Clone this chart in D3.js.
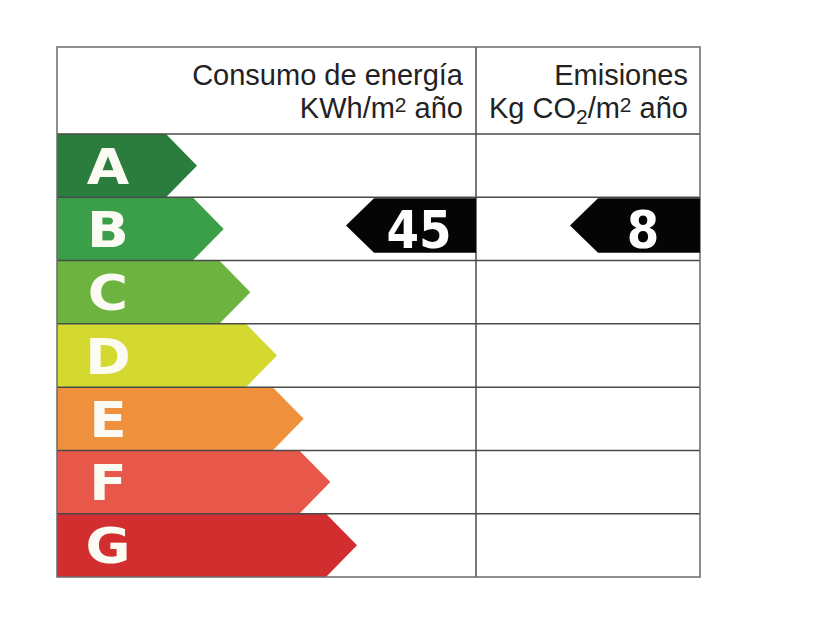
<!DOCTYPE html>
<html>
<head>
<meta charset="utf-8">
<script src="https://cdn.jsdelivr.net/npm/d3@7"></script>
<style>
  html, body { margin: 0; padding: 0; background: #fff; }
  svg { display: block; }
</style>
</head>
<body>
<svg id="chart"></svg>
<script>
// --- DATA ---
const classes = ["A", "B", "C", "D", "E", "F", "G"];
const classColors = ["#2a7d3c", "#3b9e48", "#6db33f", "#d3d92e", "#ef913c", "#e8584a", "#d22d2f"];
const energyValue = 45;
const energyClass = "B";
const emissionValue = 8;
const emissionClass = "B";

// --- LAYOUT ---
const W = 840, H = 630;
const LEFT = 57, MID = 476, RIGHT = 700;
const TOP = 47, HEAD_BOTTOM = 134, BOTTOM = 577;
const TIP = 31;          // depth of arrow point
const IND_W = 130;       // black indicator width
const LINE = "#4a4a4a";

const svg = d3.select("#chart").attr("width", W).attr("height", H);

const y = d3.scaleBand().domain(classes).range([HEAD_BOTTOM, BOTTOM]);
// tip position of each class arrow grows with its rank
const tipX = d3.scaleLinear().domain([0, classes.length - 1]).range([197, 357]);

// --- CLASS ARROWS ---
const bars = svg.append("g").selectAll("g").data(classes).enter().append("g");

bars.append("path")
  .attr("fill", (d, i) => classColors[i])
  .attr("d", (d, i) => {
    const t = y(d), b = y(d) + y.bandwidth(), tx = tipX(i);
    return `M${LEFT},${t} L${tx - TIP},${t} L${tx},${(t + b) / 2} L${tx - TIP},${b} L${LEFT},${b} Z`;
  });

bars.append("text")
  .attr("transform", d => `translate(108,${y(d) + y.bandwidth() / 2 + 18}) scale(1.12,1)`)
  .attr("text-anchor", "middle")
  .style("font-family", "'DejaVu Sans', sans-serif")
  .style("font-weight", "bold")
  .style("font-size", "49px")
  .attr("fill", "#fbfbf4")
  .text(d => d);

// --- GRID ---
const grid = svg.append("g").attr("stroke", LINE).attr("stroke-width", 1.5).attr("fill", "none");

grid.selectAll("line.row").data(classes.slice(1)).enter().append("line")
  .attr("class", "row")
  .attr("x1", LEFT).attr("x2", RIGHT)
  .attr("y1", d => y(d)).attr("y2", d => y(d));

grid.append("line").attr("x1", LEFT).attr("x2", RIGHT).attr("y1", HEAD_BOTTOM).attr("y2", HEAD_BOTTOM);
grid.append("line").attr("x1", MID).attr("x2", MID).attr("y1", TOP).attr("y2", BOTTOM);
grid.append("rect")
  .attr("x", LEFT).attr("y", TOP)
  .attr("width", RIGHT - LEFT).attr("height", BOTTOM - TOP)
  .attr("stroke", "#6a6a6a");

// --- HEADERS ---
const head = svg.append("g")
  .style("font-family", "'Liberation Sans', Arial, sans-serif")
  .style("font-size", "29px")
  .attr("fill", "#222")
  .attr("text-anchor", "end");

head.append("text").attr("x", 463).attr("y", 85).text("Consumo de energía");
const h2 = head.append("text").attr("x", 463).attr("y", 118);
h2.append("tspan").text("KWh/m");
h2.append("tspan").attr("dy", -6).style("font-size", "21px").text("2");
h2.append("tspan").attr("dy", 6).text(" año");

head.append("text").attr("x", 688).attr("y", 85).text("Emisiones");
const h4 = head.append("text").attr("x", 688).attr("y", 118);
h4.append("tspan").text("Kg CO");
h4.append("tspan").attr("dy", 6).style("font-size", "21px").text("2");
h4.append("tspan").attr("dy", -6).text("/m");
h4.append("tspan").attr("dy", -6).style("font-size", "21px").text("2");
h4.append("tspan").attr("dy", 6).text(" año");

// --- VALUE INDICATORS ---
const indicators = [
  { value: energyValue, cls: energyClass, right: MID },
  { value: emissionValue, cls: emissionClass, right: RIGHT }
];

const ind = svg.append("g").selectAll("g").data(indicators).enter().append("g");

ind.append("path")
  .attr("fill", "#050505")
  .attr("d", d => {
    const t = y(d.cls) + 1, b = y(d.cls) + y.bandwidth() * 0.875;
    const l = d.right - IND_W;
    return `M${d.right},${t} L${l + TIP - 3},${t} L${l},${(t + b) / 2} L${l + TIP - 3},${b} L${d.right},${b} Z`;
  });

ind.append("text")
  .attr("x", d => (d.right - IND_W + TIP - 3 + d.right) / 2 - 6)
  .attr("y", d => y(d.cls) + 51)
  .attr("text-anchor", "middle")
  .style("font-family", "'DejaVu Sans Condensed', 'DejaVu Sans', sans-serif")
  .style("font-stretch", "condensed")
  .style("font-weight", "bold")
  .style("font-size", "52px")
  .attr("fill", "#fff")
  .text(d => d.value);
</script>
</body>
</html>
